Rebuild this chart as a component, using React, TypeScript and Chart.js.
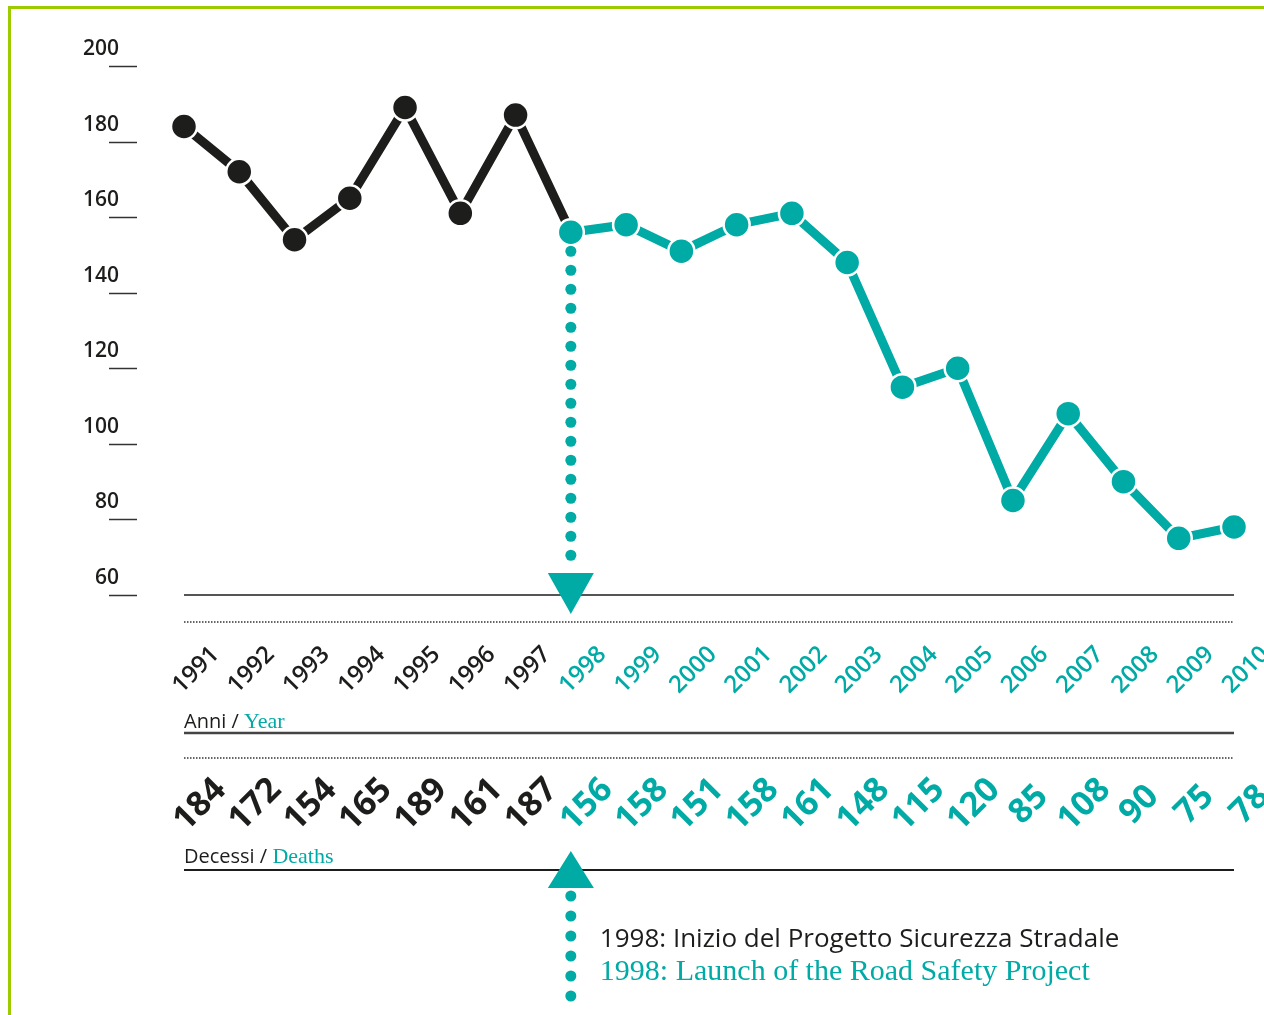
import React, { useEffect, useRef } from "react";
import { Chart, registerables } from "chart.js";

Chart.register(...registerables);

const years = ["1991","1992","1993","1994","1995","1996","1997","1998","1999","2000","2001","2002","2003","2004","2005","2006","2007","2008","2009","2010"];
const deaths = [184,172,154,165,189,161,187,156,158,151,158,161,148,115,120,85,108,90,75,78];
const yTicks = [60,80,100,120,140,160,180,200];
const launchIndex = 7;
const labelYearIt = "Anni";
const labelYearEn = "Year";
const labelDeathIt = "Decessi";
const labelDeathEn = "Deaths";
const noteIt = "1998: Inizio del Progetto Sicurezza Stradale";
const noteEn = "1998: Launch of the Road Safety Project";

const BLACK = "#1d1d1b";
const TEAL = "#00aaa5";
const LIME = "#9ccc00";
const SANS = '"Open Sans", "Noto Sans", sans-serif';
const SERIF = '"Liberation Serif", "DejaVu Serif", serif';

const overlay = {
  id: "overlay",
  beforeDraw(chart: any) {
    const ctx = chart.ctx;
    ctx.save();
    ctx.fillStyle = LIME;
    ctx.fillRect(8, 6, chart.width - 8, 3);
    ctx.fillRect(8, 6, 3, chart.height - 6);
    ctx.restore();
  },
  afterDraw(chart: any) {
    const ctx = chart.ctx;
    const xs = chart.scales.x;
    const ys = chart.scales.y;
    const left = chart.chartArea.left;
    const right = chart.chartArea.right;
    ctx.save();

    // y ticks
    ctx.strokeStyle = "#333";
    ctx.lineWidth = 1.5;
    ctx.fillStyle = BLACK;
    ctx.font = `600 21px ${SANS}`;
    ctx.textAlign = "right";
    ctx.textBaseline = "alphabetic";
    for (const t of yTicks) {
      const y = Math.round(ys.getPixelForValue(t)) + 0.5;
      ctx.beginPath();
      ctx.moveTo(109, y);
      ctx.lineTo(137, y);
      ctx.stroke();
      ctx.fillText(String(t), 119, y - 12);
    }

    const hline = (y: number, w: number, color: string, dash: number[]) => {
      ctx.save();
      ctx.strokeStyle = color;
      ctx.lineWidth = w;
      ctx.setLineDash(dash);
      ctx.beginPath();
      ctx.moveTo(left, y);
      ctx.lineTo(right, y);
      ctx.stroke();
      ctx.restore();
    };
    const base = ys.getPixelForValue(60);
    hline(base, 1.5, BLACK, []);
    hline(base + 27, 1.5, "#333", [1.5, 1.5]);
    hline(base + 138, 2.5, "#444", []);
    hline(base + 163, 1.5, "#333", [1.5, 1.5]);
    hline(base + 275, 2, BLACK, []);

    // rotated year labels
    for (let i = 0; i < years.length; i++) {
      const x = xs.getPixelForValue(i);
      ctx.save();
      ctx.translate(x + 12, base + 75);
      ctx.rotate(-Math.PI / 4);
      ctx.font = `600 24px ${SANS}`;
      ctx.textAlign = "center";
      ctx.textBaseline = "middle";
      ctx.fillStyle = i < launchIndex ? BLACK : TEAL;
      ctx.fillText(years[i], 0, 0);
      ctx.restore();
    }
    // rotated death values
    for (let i = 0; i < deaths.length; i++) {
      const x = xs.getPixelForValue(i);
      ctx.save();
      ctx.translate(x + 16, base + 210);
      ctx.rotate(-Math.PI / 4);
      ctx.font = `bold 34px ${SANS}`;
      ctx.textAlign = "center";
      ctx.textBaseline = "middle";
      ctx.fillStyle = i < launchIndex ? BLACK : TEAL;
      ctx.fillText(String(deaths[i]), 0, 0);
      ctx.restore();
    }

    // axis captions
    const caption = (y: number, it: string, en: string) => {
      ctx.textAlign = "left";
      ctx.textBaseline = "alphabetic";
      ctx.font = `20px ${SANS}`;
      ctx.fillStyle = BLACK;
      const a = it + " / ";
      ctx.fillText(a, left, y);
      const w = ctx.measureText(a).width;
      ctx.font = `22px ${SERIF}`;
      ctx.fillStyle = TEAL;
      ctx.fillText(en, left + w, y);
    };
    caption(base + 133, labelYearIt, labelYearEn);
    caption(base + 268, labelDeathIt, labelDeathEn);

    // launch marker
    const lx = xs.getPixelForValue(launchIndex);
    const ly = ys.getPixelForValue(deaths[launchIndex]);
    ctx.fillStyle = TEAL;
    for (let y = ly + 19; y < base - 26; y += 19) {
      ctx.beginPath();
      ctx.arc(lx, y, 5.5, 0, Math.PI * 2);
      ctx.fill();
    }
    ctx.beginPath();
    ctx.moveTo(lx - 23, base - 22);
    ctx.lineTo(lx + 23, base - 22);
    ctx.lineTo(lx, base + 19);
    ctx.closePath();
    ctx.fill();

    ctx.beginPath();
    ctx.moveTo(lx, base + 256);
    ctx.lineTo(lx + 23, base + 293);
    ctx.lineTo(lx - 23, base + 293);
    ctx.closePath();
    ctx.fill();
    for (let y = base + 301; y < base + 402; y += 20) {
      ctx.beginPath();
      ctx.arc(lx, y, 5.5, 0, Math.PI * 2);
      ctx.fill();
    }

    // note text
    ctx.textAlign = "left";
    ctx.textBaseline = "alphabetic";
    ctx.font = `26px ${SANS}`;
    ctx.fillStyle = BLACK;
    ctx.fillText(noteIt, lx + 29, base + 352);
    ctx.font = `30px ${SERIF}`;
    ctx.fillStyle = TEAL;
    ctx.fillText(noteEn, lx + 29, base + 385);

    ctx.restore();
  },
};

export default function App() {
  const ref = useRef<HTMLCanvasElement | null>(null);
  useEffect(() => {
    if (!ref.current) return;
    const pointColors = deaths.map((_, i) => (i < launchIndex ? BLACK : TEAL));
    const chart = new Chart(ref.current, {
      type: "line",
      data: {
        labels: years,
        datasets: [
          {
            data: deaths,
            borderWidth: 9,
            borderColor: TEAL,
            segment: {
              borderColor: (c: any) => (c.p0DataIndex < launchIndex ? BLACK : TEAL),
            },
            pointRadius: 13,
            pointBackgroundColor: pointColors,
            pointBorderColor: "#ffffff",
            pointBorderWidth: 2.5,
            tension: 0,
            clip: false,
          } as any,
        ],
      },
      options: {
        responsive: false,
        animation: false,
        events: [],
        layout: { padding: { left: 184, right: 30, top: 66, bottom: 420 } },
        plugins: { legend: { display: false }, tooltip: { enabled: false } },
        scales: {
          x: { type: "category", display: false, offset: false },
          y: { type: "linear", display: false, min: 60, max: 200 },
        },
      },
      plugins: [overlay],
    });
    return () => chart.destroy();
  }, []);
  return (
    <div style={{ position: "absolute", left: 0, top: 0, width: 1264, height: 1015, background: "#fff" }}>
      <canvas ref={ref} width={1264} height={1015} style={{ display: "block" }} />
    </div>
  );
}
